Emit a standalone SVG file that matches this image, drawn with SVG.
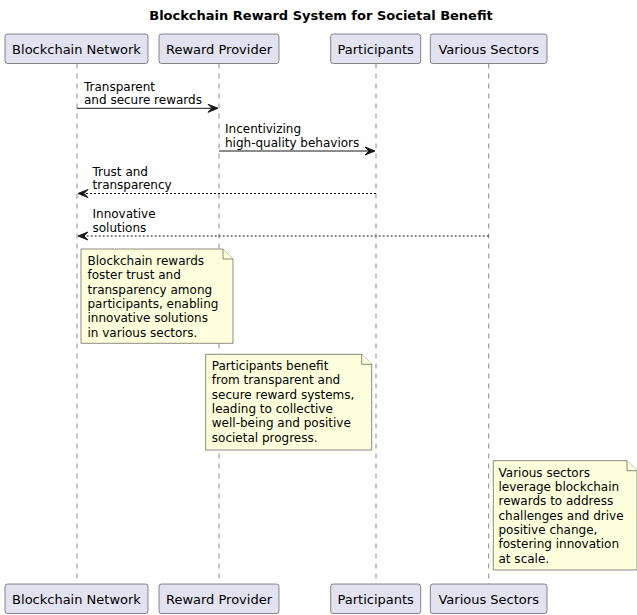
<svg xmlns="http://www.w3.org/2000/svg" width="637" height="615" viewBox="0 0 637 615">
<style>
text{font-family:"DejaVu Sans","Noto Sans",sans-serif;fill:#000}
.title{font-size:13px;font-weight:bold}
.pt{font-size:13px}
.msg{font-size:12px}
.nt{font-size:12px}
.box{fill:#E2E2F0;stroke:#181818;stroke-width:0.5}
.life{stroke:#181818;stroke-width:0.5;stroke-dasharray:5,5;fill:none}
.note{fill:#FEFFDD;stroke:#181818;stroke-width:0.5}
.ln{stroke:#181818;stroke-width:1;fill:none}
.dash{stroke-dasharray:2,2}
.head{fill:#181818;stroke:#181818;stroke-width:1}
</style>
<rect width="637" height="615" fill="#FFFFFF"/>
<text class="title" x="321" y="19.5" text-anchor="middle">Blockchain Reward System for Societal Benefit</text>

<g id="lifelines">
<line class="life" x1="77" y1="63.5" x2="77" y2="584"/>
<line class="life" x1="219" y1="63.5" x2="219" y2="584"/>
<line class="life" x1="376" y1="63.5" x2="376" y2="584"/>
<line class="life" x1="488.7" y1="63.5" x2="488.7" y2="584"/>
</g>

<g id="p-blockchain-network">
<rect class="box" x="5" y="34" width="143" height="29.5" rx="2.5"/>
<text class="pt" x="76.5" y="54" text-anchor="middle">Blockchain Network</text>
<rect class="box" x="5" y="584" width="143" height="29.5" rx="2.5"/>
<text class="pt" x="76.5" y="604" text-anchor="middle">Blockchain Network</text>
</g>
<g id="p-reward-provider">
<rect class="box" x="159" y="34" width="120" height="29.5" rx="2.5"/>
<text class="pt" x="219" y="54" text-anchor="middle">Reward Provider</text>
<rect class="box" x="159" y="584" width="120" height="29.5" rx="2.5"/>
<text class="pt" x="219" y="604" text-anchor="middle">Reward Provider</text>
</g>
<g id="p-participants">
<rect class="box" x="330.7" y="34" width="90" height="29.5" rx="2.5"/>
<text class="pt" x="375.7" y="54" text-anchor="middle">Participants</text>
<rect class="box" x="330.7" y="584" width="90" height="29.5" rx="2.5"/>
<text class="pt" x="375.7" y="604" text-anchor="middle">Participants</text>
</g>
<g id="p-various-sectors">
<rect class="box" x="430.3" y="34" width="116.7" height="29.5" rx="2.5"/>
<text class="pt" x="488.7" y="54" text-anchor="middle">Various Sectors</text>
<rect class="box" x="430.3" y="584" width="116.7" height="29.5" rx="2.5"/>
<text class="pt" x="488.7" y="604" text-anchor="middle">Various Sectors</text>
</g>

<g id="connectors">
<line class="ln" x1="77" y1="108.3" x2="217" y2="108.3"/>
<polygon class="head" points="208,104.3 218,108.3 208,112.3 212,108.3"/>
<text class="msg" x="84" y="90.5">Transparent</text>
<text class="msg" x="84" y="104">and secure rewards</text>

<line class="ln" x1="219" y1="151" x2="374" y2="151"/>
<polygon class="head" points="365,147 375,151 365,155 369,151"/>
<text class="msg" x="225" y="133">Incentivizing</text>
<text class="msg" x="225" y="146.5">high-quality behaviors</text>

<line class="ln dash" x1="376" y1="193.5" x2="79" y2="193.5"/>
<polygon class="head" points="88,189.5 78,193.5 88,197.5 84,193.5"/>
<text class="msg" x="92.5" y="175.5">Trust and</text>
<text class="msg" x="92.5" y="189">transparency</text>

<line class="ln dash" x1="488.7" y1="236" x2="79" y2="236"/>
<polygon class="head" points="88,232 78,236 88,240 84,236"/>
<text class="msg" x="92.5" y="218">Innovative</text>
<text class="msg" x="92.5" y="231.5">solutions</text>
</g>

<g id="note-1">
<path class="note" d="M81,249 L223,249 L233,259 L233,343.3 L81,343.3 Z"/>
<path class="note" d="M223,249 L223,259 L233,259"/>
<text class="nt" x="87.5" y="265">Blockchain rewards</text>
<text class="nt" x="87.5" y="279.3">foster trust and</text>
<text class="nt" x="87.5" y="293.6">transparency among</text>
<text class="nt" x="87.5" y="307.9">participants, enabling</text>
<text class="nt" x="87.5" y="322.2">innovative solutions</text>
<text class="nt" x="87.5" y="336.5">in various sectors.</text>
</g>

<g id="note-2">
<path class="note" d="M205.7,354.3 L361.7,354.3 L371.7,364.3 L371.7,450 L205.7,450 Z"/>
<path class="note" d="M361.7,354.3 L361.7,364.3 L371.7,364.3"/>
<text class="nt" x="211.8" y="370">Participants benefit</text>
<text class="nt" x="211.8" y="384.3">from transparent and</text>
<text class="nt" x="211.8" y="398.6">secure reward systems,</text>
<text class="nt" x="211.8" y="412.9">leading to collective</text>
<text class="nt" x="211.8" y="427.2">well-being and positive</text>
<text class="nt" x="211.8" y="441.5">societal progress.</text>
</g>

<g id="note-3">
<path class="note" d="M493.3,460.7 L627,460.7 L637,470.7 L637,570 L493.3,570 Z"/>
<path class="note" d="M627,460.7 L627,470.7 L637,470.7"/>
<text class="nt" x="498.5" y="476.7">Various sectors</text>
<text class="nt" x="498.5" y="491">leverage blockchain</text>
<text class="nt" x="498.5" y="505.3">rewards to address</text>
<text class="nt" x="498.5" y="519.6">challenges and drive</text>
<text class="nt" x="498.5" y="533.9">positive change,</text>
<text class="nt" x="498.5" y="548.2">fostering innovation</text>
<text class="nt" x="498.5" y="562.5">at scale.</text>
</g>
</svg>
